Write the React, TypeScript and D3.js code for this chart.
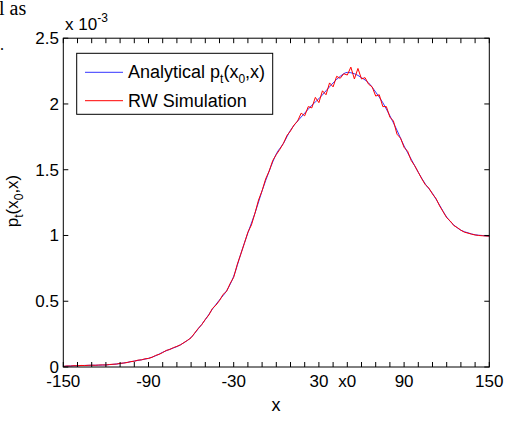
import * as d3 from "d3";

const xTickValues = [-150, -90, -30, 30, 50, 90, 150];
const xTickLabels = ["-150", "-90", "-30", "30", "x0", "90", "150"];
const xMinorTicks = d3.range(-150, 151, 10);
const yTickValues = [0, 0.5, 1, 1.5, 2, 2.5];
const yTickLabels = ["0", "0.5", "1", "1.5", "2", "2.5"];

// analytical p_t(x0,x), units of 1e-3, sampled every 5 on x
const analyticalX = d3.range(-150, 151, 5);
const analytical = [
  0.005, 0.008, 0.010, 0.012, 0.013, 0.014, 0.016, 0.020, 0.026, 0.035,
  0.045, 0.055, 0.066, 0.085, 0.112, 0.135, 0.155, 0.185, 0.225, 0.29,
  0.36, 0.44, 0.51, 0.58, 0.69, 0.86, 1.02, 1.17, 1.34, 1.49,
  1.62, 1.70, 1.80, 1.87, 1.93, 1.99, 2.04, 2.10, 2.16, 2.21,
  2.24, 2.23, 2.20, 2.16, 2.09, 2.01, 1.91, 1.80, 1.68, 1.58,
  1.48, 1.39, 1.32, 1.23, 1.14, 1.08, 1.04, 1.02, 1.005, 1.0,
  0.995,
];

// random-walk simulation, sampled every 2.5 on x
const simX = d3.range(-150, 150.1, 2.5);
const simulation = [
  0.004, 0.008, 0.007, 0.010, 0.009, 0.012, 0.011, 0.013, 0.014, 0.013,
  0.015, 0.016, 0.015, 0.019, 0.021, 0.022, 0.028, 0.030, 0.034, 0.041,
  0.044, 0.052, 0.054, 0.062, 0.065, 0.074, 0.088, 0.096, 0.110, 0.126,
  0.133, 0.147, 0.157, 0.168, 0.186, 0.203, 0.222, 0.258, 0.293, 0.322,
  0.362, 0.395, 0.445, 0.470, 0.505, 0.552, 0.575, 0.635, 0.682, 0.780,
  0.858, 0.940, 1.025, 1.08, 1.17, 1.27, 1.34, 1.43, 1.49, 1.57,
  1.615, 1.655, 1.70, 1.76, 1.795, 1.84, 1.87, 1.93, 1.91, 1.98,
  1.97, 2.05, 2.01, 2.10, 2.07, 2.16, 2.13, 2.21, 2.195, 2.23,
  2.22, 2.28, 2.19, 2.27, 2.19, 2.20, 2.15, 2.13, 2.06, 2.07,
  1.98, 1.98, 1.90, 1.87, 1.77, 1.74, 1.67, 1.64, 1.57, 1.53,
  1.48, 1.43, 1.385, 1.36, 1.315, 1.28, 1.225, 1.18, 1.135, 1.11,
  1.075, 1.06, 1.04, 1.025, 1.018, 1.01, 1.004, 1.0, 0.998, 0.996,
  0.995,
];

const legendLabels = ["Analytical", "RW Simulation"];

const W = 506;
const H = 423;
const FONT = "'Liberation Sans', Arial, sans-serif";
const SERIF = "'Liberation Serif', 'Times New Roman', serif";

export default function App() {
  const left = 63.3, right = 489.3, top = 38.2, bottom = 367;
  const x = d3.scaleLinear().domain([-150, 150]).range([left, right]);
  const y = d3.scaleLinear().domain([0, 2.5]).range([bottom, top]);

  const anaLine = d3.line<number>()
    .x((_, i) => x(analyticalX[i]))
    .y(d => y(d))
    .curve(d3.curveMonotoneX);
  const simLine = d3.line<number>()
    .x((_, i) => x(simX[i]))
    .y(d => y(d));

  const tl = 5;

  return (
    <svg width={W} height={H} style={{ position: "absolute", left: 0, top: 0, background: "#fff" }}>
      <rect width={W} height={H} fill="#fff" />
      {/* cut-off text from the source page */}
      <text x={-1} y={15} fontFamily={SERIF} fontSize={20}>l as</text>
      <text x={0} y={50} fontFamily={SERIF} fontSize={16}>.</text>

      <path d={anaLine(analytical) || ""} fill="none" stroke="#0000ff" strokeWidth={0.8} />
      <path d={simLine(simulation) || ""} fill="none" stroke="#ff0000" strokeWidth={1} />

      <rect x={left} y={top} width={right - left} height={bottom - top} fill="none" stroke="#000" strokeWidth={1} />

      {xMinorTicks.map(v => (
        <g key={"xt" + v}>
          <line x1={x(v)} x2={x(v)} y1={bottom} y2={bottom - tl} stroke="#000" strokeWidth={1} />
          <line x1={x(v)} x2={x(v)} y1={top} y2={top + tl} stroke="#000" strokeWidth={1} />
        </g>
      ))}
      {yTickValues.map(v => (
        <g key={"yt" + v}>
          <line x1={left} x2={left + tl} y1={y(v)} y2={y(v)} stroke="#000" strokeWidth={1} />
          <line x1={right} x2={right - tl} y1={y(v)} y2={y(v)} stroke="#000" strokeWidth={1} />
        </g>
      ))}

      {xTickValues.map((v, i) => (
        <text key={"xl" + v} x={x(v)} y={387} textAnchor="middle" fontFamily={FONT} fontSize={17}>
          {xTickLabels[i]}
        </text>
      ))}
      {yTickValues.map((v, i) => (
        <text key={"yl" + v} x={59} y={y(v) + 6} textAnchor="end" fontFamily={FONT} fontSize={17}>
          {yTickLabels[i]}
        </text>
      ))}

      <text x={65} y={30} fontFamily={FONT} fontSize={17}>
        x 10<tspan dy={-8} fontSize={12}>-3</tspan>
      </text>

      <text x={276} y={411} textAnchor="middle" fontFamily={FONT} fontSize={18}>x</text>

      <text transform="translate(18,201) rotate(-90)" textAnchor="middle" fontFamily={FONT} fontSize={17}>
        p<tspan dy={5} fontSize={12}>t</tspan><tspan dy={-5}>(x</tspan>
        <tspan dy={5} fontSize={12}>0</tspan><tspan dy={-5}>,x)</tspan>
      </text>

      <rect x={76.7} y={53.3} width={196} height={61} fill="#fff" stroke="#000" strokeWidth={1} />
      <line x1={85} x2={123} y1={72.3} y2={72.3} stroke="#0000ff" strokeWidth={0.8} />
      <line x1={85} x2={123} y1={100.7} y2={100.7} stroke="#ff0000" strokeWidth={1} />
      <text x={128} y={78} fontFamily={FONT} fontSize={18}>
        {legendLabels[0]} p<tspan dy={5} fontSize={12}>t</tspan><tspan dy={-5}>(x</tspan>
        <tspan dy={5} fontSize={12}>0</tspan><tspan dy={-5}>,x)</tspan>
      </text>
      <text x={128} y={106.5} fontFamily={FONT} fontSize={18}>{legendLabels[1]}</text>
    </svg>
  );
}
